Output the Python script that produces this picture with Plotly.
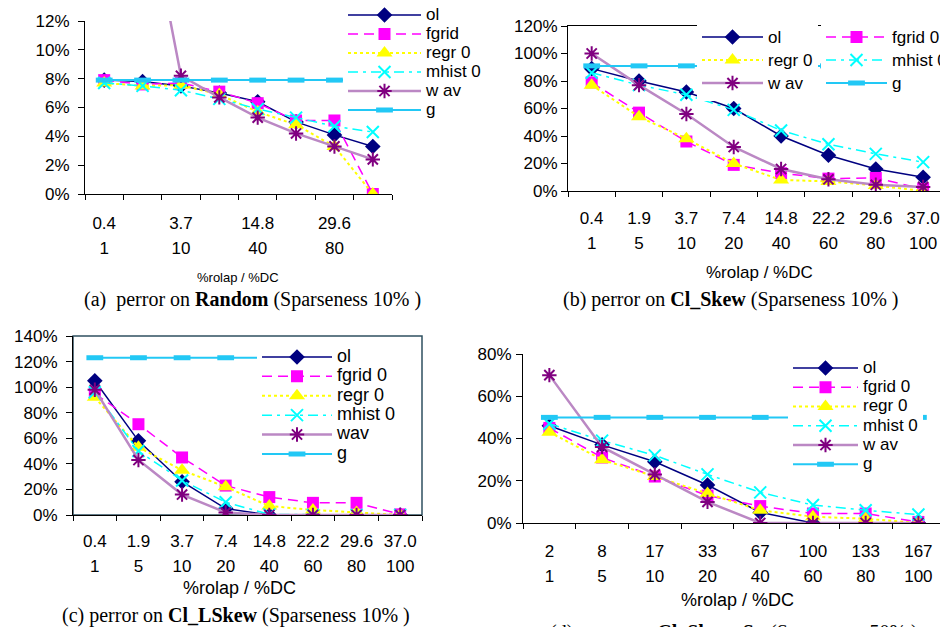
import plotly.graph_objects as go

W, H = 940, 627
SANS = "Liberation Sans, Arial, sans-serif"
SERIF = "Liberation Serif, Times New Roman, serif"

# ---------------- data ----------------
olap_abc = ["0.4", "1.9", "3.7", "7.4", "14.8", "22.2", "29.6", "37.0"]
olap_d = ["2", "8", "17", "33", "67", "100", "133", "167"]
dc_labels = ["1", "5", "10", "20", "40", "60", "80", "100"]

# (a) Random
a_ol = [7.9, 7.8, 7.5, 7.0, 6.4, 5.0, 4.1, 3.3]
a_fgrid = [7.9, 7.6, 7.7, 7.1, 6.3, 5.1, 5.1, 0.0]
a_regr = [7.7, 7.5, 7.55, 6.9, 5.7, 4.8, 3.3, 0.0]
a_mhist = [7.7, 7.5, 7.2, 6.6, 5.9, 5.3, 4.7, 4.3]
a_wav = [30.0, 22.0, 8.2, 6.7, 5.3, 4.2, 3.3, 2.4]
a_g = [7.9, 7.9, 7.9, 7.9, 7.9, 7.9, 7.9, 7.9]

# (b) Cl_Skew
b_ol = [89, 80, 72, 60, 40, 26, 16, 10]
b_fgrid = [79, 57, 36, 19, 13, 9, 9.5, 1.5]
b_regr = [77, 54, 38, 20, 8, 7, 4, 0]
b_mhist = [86, 77, 70, 59, 44, 34, 27, 21]
b_wav = [100, 77, 56, 32, 16, 8.5, 4.5, 3]
b_g = [91, 91, 91, 91, 91, 91, 91, 91]

# (c) Cl_LSkew
c_ol = [105, 58, 26, 5, 0, 0, 0, 0]
c_fgrid = [95, 71, 45, 23, 14, 9.5, 9.5, 0.5]
c_regr = [92, 53, 35, 22, 7, 4, 2, 0]
c_mhist = [96, 50, 27, 10, 0.5, 0, 0, 0]
c_wav = [98, 43, 16, 2, 0, 0, 0, 0]
c_g = [123, 123, 123, 123, 123, None, None, None]

# (d) Cl_Skew_Sp
d_ol = [46, 37, 29, 18, 5, 0, 0, 0]
d_fgrid = [45, 31, 22, 13, 8, 4.5, 4.5, 0.5]
d_regr = [43, 30, 22, 14, 6, 3, 2, 0]
d_mhist = [47, 39, 32, 23, 14.5, 8.5, 6, 4]
d_wav = [70, 36, 23, 10, 0, 0, 0, 0]
d_g = [50, 50, 50, 50, 50, 50, 50, 50]

names_a = ["ol", "fgrid", "regr 0", "mhist 0", "w av", "g"]
names_b = ["ol", "fgrid 0", "regr 0", "mhist 0", "w av", "g"]
names_c = ["ol", "fgrid 0", "regr 0", "mhist 0", "wav", "g"]
names_d = ["ol", "fgrid 0", "regr 0", "mhist 0", "w av", "g"]

yt_a = [0, 2, 4, 6, 8, 10, 12]
yt_b = [0, 20, 40, 60, 80, 100, 120]
yt_c = [0, 20, 40, 60, 80, 100, 120, 140]
yt_d = [0, 20, 40, 60, 80]

# ---------------- styles ----------------
KEYS = ["ol", "fgrid", "regr", "mhist", "wav", "g"]
G_COL = "#22C8F5"
STY = {
    "ol": dict(line=dict(color="#000080", width=1.5),
               marker=dict(symbol="diamond", size=12, color="#000080")),
    "fgrid": dict(line=dict(color="#FF00FF", width=1.5, dash="10px,6px"),
                  marker=dict(symbol="square", size=12, color="#FF00FF")),
    "regr": dict(line=dict(color="#FFFF00", width=2, dash="3px,3px"),
                 marker=dict(symbol="triangle-up", size=14, color="#FFFF00")),
    "mhist": dict(line=dict(color="#00FFFF", width=1.5, dash="10px,5px,3px,5px"),
                  marker=dict(symbol="x-thin-open", size=12, color="#00FFFF",
                              line=dict(color="#00FFFF", width=2))),
    "wav": dict(line=dict(color="#BB88C4", width=2.5),
                marker=dict(symbol="asterisk-open", size=12, color="#800080",
                            line=dict(color="#800080", width=2))),
    "g": dict(line=dict(color=G_COL, width=2),
              marker=dict(symbol="line-ew-open", size=12, color=G_COL,
                          line=dict(color=G_COL, width=5))),
}


def px(x):
    return x / W


def py(y):
    return 1 - y / H


fig = go.Figure()


def add_panel(xcats, series, names, xa, ya, legends, lsize):
    for key, vals, nm, lg in zip(KEYS, series, names, legends):
        fig.add_trace(go.Scatter(
            x=xcats, y=vals, mode="lines+markers", xaxis=xa, yaxis=ya,
            name=f'<span style="font-size:{lsize}px">{nm}</span>',
            legend=lg, cliponaxis=True, hoverinfo="skip", **STY[key]))


add_panel(olap_abc, [a_ol, a_fgrid, a_regr, a_mhist, a_wav, a_g], names_a,
          "x", "y", ["legend"] * 6, 17)
add_panel(olap_abc, [b_ol, b_fgrid, b_regr, b_mhist, b_wav, b_g], names_b,
          "x2", "y2", ["legend2", "legend3", "legend2", "legend3", "legend2", "legend3"], 17)
add_panel(olap_abc, [c_ol, c_fgrid, c_regr, c_mhist, c_wav, c_g], names_c,
          "x3", "y3", ["legend4"] * 6, 18)
add_panel(olap_d, [d_ol, d_fgrid, d_regr, d_mhist, d_wav, d_g], names_d,
          "x4", "y4", ["legend5"] * 6, 17)


def two_line(top, bottom, size=17):
    return (f'<span style="font-size:{size}px">{top}</span><br>'
            f'<span style="font-size:{size}px">{bottom}</span>')


def xaxis(domain, rng, cats, ticktext, anchor, standoff, lsize=19.2):
    return dict(domain=domain, range=rng, type="category", tickmode="array",
                tickvals=cats, ticktext=ticktext, tickson="boundaries",
                tickangle=0, ticks="outside", ticklen=5, tickcolor="black",
                tickwidth=1, showline=True, linecolor="black", linewidth=1,
                showgrid=False, zeroline=False, anchor=anchor,
                ticklabelstandoff=standoff,
                tickfont=dict(family=SANS, size=lsize, color="black"))


def yaxis(domain, rng, vals, anchor, standoff):
    return dict(domain=domain, range=rng, tickmode="array", tickvals=vals,
                ticktext=[f"{v}%" for v in vals], ticks="outside", ticklen=6,
                tickcolor="black", showline=True, linecolor="black",
                linewidth=1, showgrid=False, zeroline=False, anchor=anchor,
                ticklabelstandoff=standoff,
                tickfont=dict(family=SANS, size=17, color="black"))


tt_a = [two_line(o, d) if i % 2 == 0 else "" for i, (o, d) in enumerate(zip(olap_abc, dc_labels))]
tt_b = [two_line(o, d) for o, d in zip(olap_abc, dc_labels)]
tt_d = [two_line(o, d) for o, d in zip(olap_d, dc_labels)]

xa = xaxis([px(85), px(392)], [-0.5, 7.5], olap_abc, tt_a, "y", 11)
xb = xaxis([px(568), 1.0], [-0.5, 7.356], olap_abc, tt_b, "y2", 9)
xb["mirror"] = True
xc = xaxis([px(73), px(422)], [-0.5, 7.5], olap_abc, tt_b, "y3", 8)
xd = xaxis([px(523), 1.0], [-0.5, 7.41], olap_d, tt_d, "y4", 10)

ya = yaxis([py(194), py(21)], [0, 12], yt_a, "x", 5)
yb = yaxis([py(191), py(26)], [0, 120], yt_b, "x2", 0)
yc = yaxis([py(515), py(336)], [0, 140], yt_c, "x3", 5)
yd = yaxis([py(523), py(354)], [0, 80], yt_d, "x4", 1)


def legend(x, ytop, iw, base):
    return dict(x=px(x), y=py(ytop), xanchor="left", yanchor="top",
                bgcolor="white", borderwidth=0, itemwidth=iw,
                traceorder="normal", tracegroupgap=0, orientation="v",
                font=dict(family=SANS, size=base, color="black"))


ann = []


def text(x, y, s, size, family=SANS):
    ann.append(dict(x=px(x), y=py(y), xref="paper", yref="paper", text=s,
                    showarrow=False, xanchor="center", yanchor="middle",
                    font=dict(family=family, size=size, color="black")))


text(238, 277, "%rolap / %DC", 13)
text(759, 272, "%rolap / %DC", 17)
text(239, 588, "%rolap / %DC", 18)
text(737, 600, "%rolap / %DC", 18)
text(252, 299, "(a)  perror on <b>Random</b> (Sparseness 10% )", 20, SERIF)
text(731, 299, "(b) perror on <b>Cl_Skew</b> (Sparseness 10% )", 20, SERIF)
text(236, 615, "(c) perror on <b>Cl_LSkew</b> (Sparseness 10% )", 20, SERIF)
text(734, 632, "(d) perror on <b>Cl_Skew_Sp</b> (Sparseness 50% )", 20, SERIF)

fig.update_layout(
    width=W, height=H, autosize=False,
    margin=dict(l=0, r=0, t=0, b=0, autoexpand=False),
    paper_bgcolor="white", plot_bgcolor="rgba(0,0,0,0)",
    showlegend=True,
    xaxis=xa, yaxis=ya, xaxis2=xb, yaxis2=yb,
    xaxis3=xc, yaxis3=yc, xaxis4=xd, yaxis4=yd,
    legend=legend(343, 0.5, 73, 12),
    legend2=legend(697, 20.5, 61, 15.4),
    legend3=legend(821, 20.5, 61, 15.4),
    legend4=legend(257, 342.3, 70, 12.6),
    legend5=legend(788, 353.4, 65, 12.5),
    annotations=ann,
    shapes=[dict(type="rect", xref="paper", yref="paper",
                 x0=px(73), x1=px(422), y0=py(515), y1=py(336),
                 line=dict(color="#2F5060", width=1.5), layer="below")],
)

fig.write_html("out.html",
               config={"displayModeBar": False, "staticPlot": True},
               post_script="document.body.style.margin='0';document.body.style.padding='0';")
